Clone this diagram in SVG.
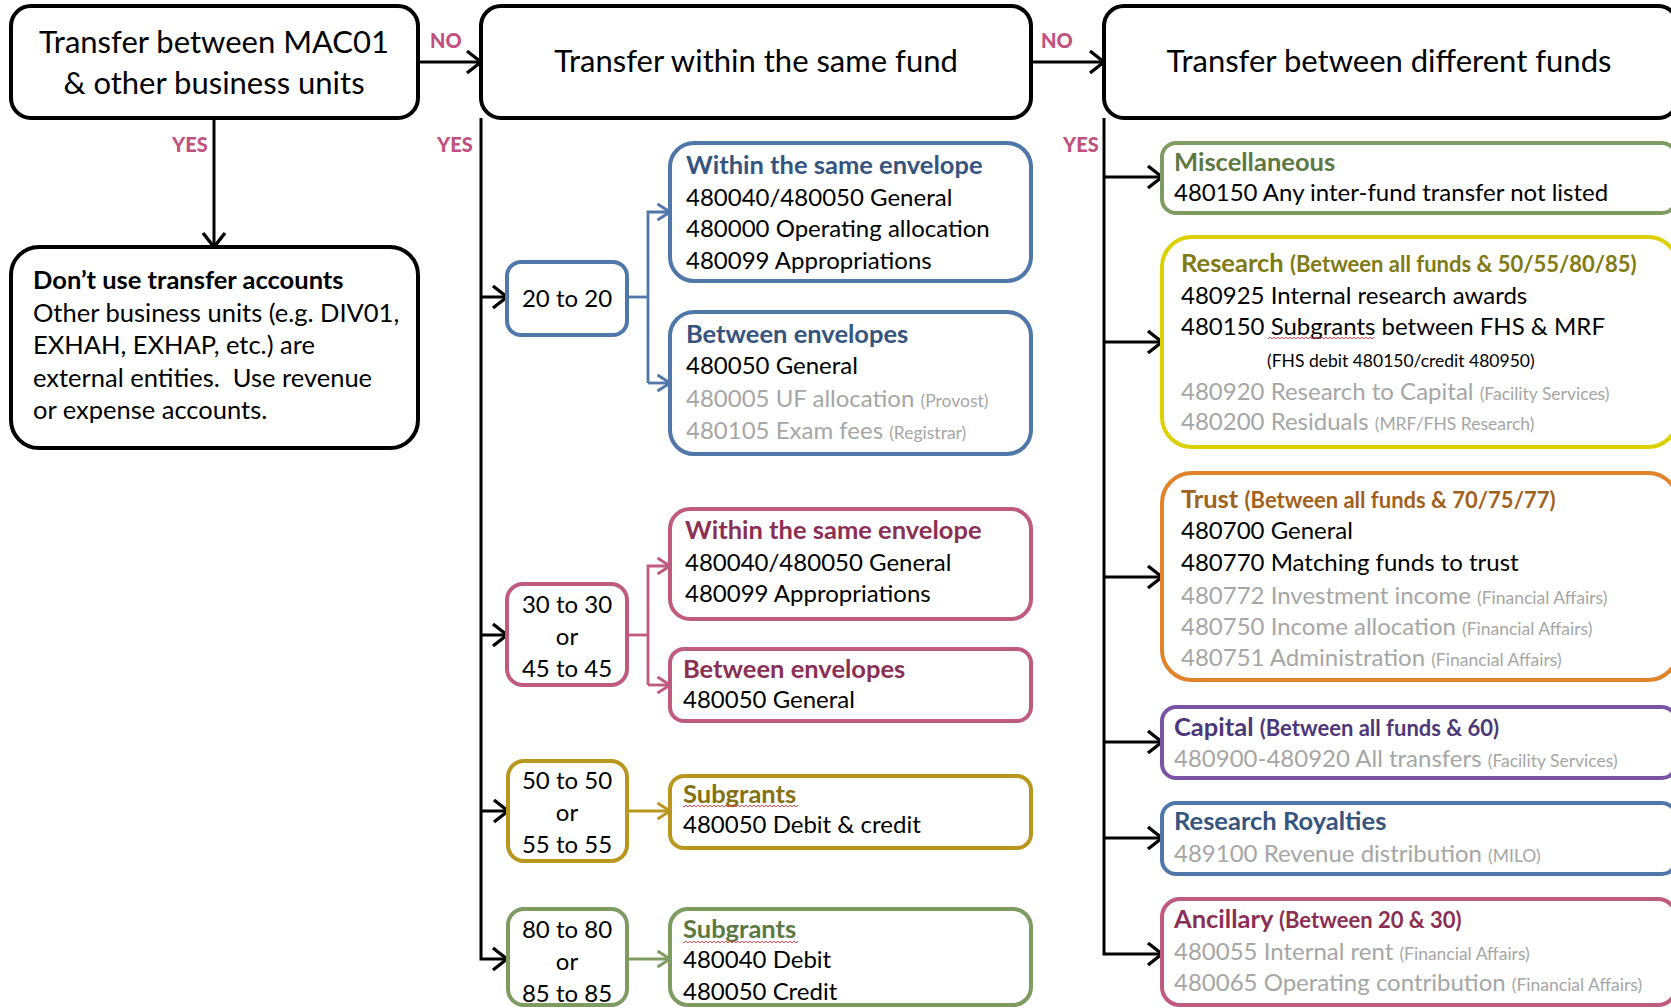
<svg xmlns="http://www.w3.org/2000/svg" width="1671" height="1008" viewBox="0 0 1671 1008">
<style>
text{font-family:Lato,"Open Sans","Liberation Sans",sans-serif;font-size:24px;fill:#000}
.h{font-size:31px}
.b{font-weight:700;font-size:25.5px}
.big{font-size:25.5px}
.st{font-size:22px;font-weight:700}
.g{fill:#a6a6a6}
.s{font-size:17.5px}
.lab{font-size:20px;font-weight:900;fill:#c0507e}
.mid{text-anchor:middle}
rect{fill:#fff;stroke-width:4}
.k{stroke:#000}
.bl{stroke:#4f77aa}.pk{stroke:#be5b7e}.gd{stroke:#b9961e}.gr{stroke:#7e9b62}
.yl{stroke:#ddd000}.or{stroke:#e0832a}.pu{stroke:#7a53a4}
.cbl{fill:#35557f}.cpk{fill:#8b2f55}.cgd{fill:#857014}.cgr{fill:#5c7843}
.cyl{fill:#7f7a12}.cor{fill:#a2611c}.cpu{fill:#4c3878}
.wv{fill:url(#wave);stroke:none}
#connectors path{fill:none}
.ck{stroke:#000;stroke-width:3}
.cb{stroke:#4f77aa;stroke-width:2.8}.cp{stroke:#be5b7e;stroke-width:2.8}
.cg{stroke:#b9961e;stroke-width:2.8}.cn{stroke:#7e9b62;stroke-width:2.8}
</style>
<defs>
<marker id="ak" markerUnits="userSpaceOnUse" markerWidth="18" markerHeight="26" refX="16" refY="13" orient="auto" viewBox="0 0 18 26"><path d="M2,2 L16,13 L2,24" fill="none" stroke="#000" stroke-width="3.4"/></marker>
<marker id="ab" markerUnits="userSpaceOnUse" markerWidth="16" markerHeight="20" refX="14" refY="10" orient="auto" viewBox="0 0 16 20"><path d="M1.5,2 L14,10 L1.5,18" fill="none" stroke="#4f77aa" stroke-width="2.8"/></marker>
<marker id="ap" markerUnits="userSpaceOnUse" markerWidth="16" markerHeight="20" refX="14" refY="10" orient="auto" viewBox="0 0 16 20"><path d="M1.5,2 L14,10 L1.5,18" fill="none" stroke="#be5b7e" stroke-width="2.8"/></marker>
<marker id="ag" markerUnits="userSpaceOnUse" markerWidth="16" markerHeight="20" refX="14" refY="10" orient="auto" viewBox="0 0 16 20"><path d="M1.5,2 L14,10 L1.5,18" fill="none" stroke="#b9961e" stroke-width="2.8"/></marker>
<marker id="an" markerUnits="userSpaceOnUse" markerWidth="16" markerHeight="20" refX="14" refY="10" orient="auto" viewBox="0 0 16 20"><path d="M1.5,2 L14,10 L1.5,18" fill="none" stroke="#7e9b62" stroke-width="2.8"/></marker>
<pattern id="wave" patternUnits="userSpaceOnUse" width="4" height="4"><path d="M0,3 L2,1 L4,3" fill="none" stroke="#e8383d" stroke-width="0.9"/></pattern>
</defs>
<rect x="0" y="0" width="1671" height="1008" style="fill:#fff;stroke:none"/>

<g id="connectors">
<path class="ck" d="M418,62 H481" marker-end="url(#ak)"/>
<path class="ck" d="M214,118 V247" marker-end="url(#ak)"/>
<path class="ck" d="M1031,62 H1104" marker-end="url(#ak)"/>
<path class="ck" d="M481,118 V959 H507" marker-end="url(#ak)"/>
<path class="ck" d="M481,297 H507" marker-end="url(#ak)"/>
<path class="ck" d="M481,635 H507" marker-end="url(#ak)"/>
<path class="ck" d="M481,811 H508" marker-end="url(#ak)"/>
<path class="ck" d="M1104,118 V954 H1162" marker-end="url(#ak)"/>
<path class="ck" d="M1104,177 H1162" marker-end="url(#ak)"/>
<path class="ck" d="M1104,342 H1162" marker-end="url(#ak)"/>
<path class="ck" d="M1104,577 H1162" marker-end="url(#ak)"/>
<path class="ck" d="M1104,742 H1162" marker-end="url(#ak)"/>
<path class="ck" d="M1104,838 H1162" marker-end="url(#ak)"/>
<path class="cb" d="M627,297 H648"/>
<path class="cb" d="M648,383 V212 H670" marker-end="url(#ab)"/>
<path class="cb" d="M648,383 H670" marker-end="url(#ab)"/>
<path class="cp" d="M627,635 H648"/>
<path class="cp" d="M648,685 V566 H670" marker-end="url(#ap)"/>
<path class="cp" d="M648,685 H670" marker-end="url(#ap)"/>
<path class="cg" d="M627,811 H670" marker-end="url(#ag)"/>
<path class="cn" d="M627,959 H670" marker-end="url(#an)"/>
<text class="lab" x="430" y="48">NO</text>
<text class="lab" x="1041" y="48">NO</text>
<text class="lab" x="172" y="152">YES</text>
<text class="lab" x="437" y="152">YES</text>
<text class="lab" x="1063" y="152">YES</text>
</g>

<g id="n-mac01">
<rect class="k" x="11" y="6" width="407" height="112" rx="20"/>
<text class="h mid" x="214" y="53">Transfer between MAC01</text>
<text class="h mid" x="214" y="94">&amp; other business units</text>
</g>

<g id="n-dontuse">
<rect class="k" x="11" y="247" width="407" height="201" rx="28"/>
<text class="b" x="33" y="289">Don’t use transfer accounts</text>
<text class="big" x="33" y="322">Other business units (e.g. DIV01,</text>
<text class="big" x="33" y="354">EXHAH, EXHAP, etc.) are</text>
<text class="big" x="33" y="387" xml:space="preserve">external entities.  Use revenue</text>
<text class="big" x="33" y="419">or expense accounts.</text>
</g>

<g id="n-samefund">
<rect class="k" x="481" y="6" width="550" height="112" rx="20"/>
<text class="h mid" x="756" y="72">Transfer within the same fund</text>
</g>

<g id="n-difffunds">
<rect class="k" x="1104" y="6" width="574" height="112" rx="20"/>
<text class="h mid" x="1389" y="72">Transfer between different funds</text>
</g>

<g id="n-20">
<rect class="bl" x="507" y="262" width="120" height="73" rx="14"/>
<text class="mid" x="567" y="307">20 to 20</text>
</g>

<g id="n-20-within">
<rect class="bl" x="670" y="143" width="361" height="138" rx="24"/>
<text class="b cbl" x="686" y="174">Within the same envelope</text>
<text x="686" y="206">480040/480050 General</text>
<text x="686" y="237">480000 Operating allocation</text>
<text x="686" y="269">480099 Appropriations</text>
</g>

<g id="n-20-between">
<rect class="bl" x="670" y="312" width="361" height="142" rx="24"/>
<text class="b cbl" x="686" y="343">Between envelopes</text>
<text x="686" y="374">480050 General</text>
<text class="g" x="686" y="407">480005 UF allocation <tspan class="s">(Provost)</tspan></text>
<text class="g" x="686" y="439">480105 Exam fees <tspan class="s">(Registrar)</tspan></text>
</g>

<g id="n-30">
<rect class="pk" x="507" y="584" width="120" height="101" rx="16"/>
<text class="mid" x="567" y="613">30 to 30</text>
<text class="mid" x="567" y="645">or</text>
<text class="mid" x="567" y="677">45 to 45</text>
</g>

<g id="n-30-within">
<rect class="pk" x="670" y="509" width="361" height="110" rx="20"/>
<text class="b cpk" x="685" y="539">Within the same envelope</text>
<text x="685" y="571">480040/480050 General</text>
<text x="685" y="602">480099 Appropriations</text>
</g>

<g id="n-30-between">
<rect class="pk" x="670" y="649" width="361" height="72" rx="14"/>
<text class="b cpk" x="683" y="678">Between envelopes</text>
<text x="683" y="708">480050 General</text>
</g>

<g id="n-50">
<rect class="gd" x="508" y="761" width="119" height="100" rx="16"/>
<text class="mid" x="567" y="789">50 to 50</text>
<text class="mid" x="567" y="821">or</text>
<text class="mid" x="567" y="853">55 to 55</text>
</g>

<g id="n-50-subgrants">
<rect class="gd" x="670" y="776" width="361" height="72" rx="14"/>
<text class="b cgd" x="683" y="803">Subgrants</text>
<rect class="wv" x="683" y="805" width="115" height="4"/>
<text x="683" y="833">480050 Debit &amp; credit</text>
</g>

<g id="n-80">
<rect class="gr" x="508" y="909" width="119" height="96" rx="16"/>
<text class="mid" x="567" y="938">80 to 80</text>
<text class="mid" x="567" y="970">or</text>
<text class="mid" x="567" y="1002">85 to 85</text>
</g>

<g id="n-80-subgrants">
<rect class="gr" x="670" y="909" width="361" height="96" rx="18"/>
<text class="b cgr" x="683" y="938">Subgrants</text>
<rect class="wv" x="683" y="940" width="115" height="4"/>
<text x="683" y="968">480040 Debit</text>
<text x="683" y="1000">480050 Credit</text>
</g>

<g id="n-misc">
<rect class="gr" x="1162" y="143" width="514" height="70" rx="14"/>
<text class="b cgr" x="1174" y="171">Miscellaneous</text>
<text x="1174" y="201">480150 Any inter-fund transfer not listed</text>
</g>

<g id="n-research">
<rect class="yl" x="1162" y="237" width="516" height="210" rx="30"/>
<text class="b cyl" x="1181" y="272">Research <tspan class="st">(Between all funds &amp; 50/55/80/85)</tspan></text>
<text x="1181" y="304">480925 Internal research awards</text>
<text x="1181" y="335">480150 Subgrants between FHS &amp; MRF</text>
<rect class="wv" x="1268" y="337" width="106" height="4"/>
<text class="s" x="1267" y="367">(FHS debit 480150/credit 480950)</text>
<text class="g" x="1181" y="400">480920 Research to Capital <tspan class="s">(Facility Services)</tspan></text>
<text class="g" x="1181" y="430">480200 Residuals <tspan class="s">(MRF/FHS Research)</tspan></text>
</g>

<g id="n-trust">
<rect class="or" x="1162" y="473" width="516" height="207" rx="30"/>
<text class="b cor" x="1181" y="508">Trust <tspan class="st">(Between all funds &amp; 70/75/77)</tspan></text>
<text x="1181" y="539">480700 General</text>
<text x="1181" y="571">480770 Matching funds to trust</text>
<text class="g" x="1181" y="604">480772 Investment income <tspan class="s">(Financial Affairs)</tspan></text>
<text class="g" x="1181" y="635">480750 Income allocation <tspan class="s">(Financial Affairs)</tspan></text>
<text class="g" x="1181" y="666">480751 Administration <tspan class="s">(Financial Affairs)</tspan></text>
</g>

<g id="n-capital">
<rect class="pu" x="1162" y="707" width="514" height="71" rx="14"/>
<text class="b cpu" x="1174" y="736">Capital <tspan class="st">(Between all funds &amp; 60)</tspan></text>
<text class="g" x="1174" y="767">480900-480920 All transfers <tspan class="s">(Facility Services)</tspan></text>
</g>

<g id="n-royalties">
<rect class="bl" x="1162" y="803" width="514" height="71" rx="14"/>
<text class="b cbl" x="1174" y="830">Research Royalties</text>
<text class="g" x="1174" y="862">489100 Revenue distribution <tspan class="s">(MILO)</tspan></text>
</g>

<g id="n-ancillary">
<rect class="pk" x="1162" y="899" width="514" height="106" rx="18"/>
<text class="b cpk" x="1174" y="928">Ancillary <tspan class="st">(Between 20 &amp; 30)</tspan></text>
<text class="g" x="1174" y="960">480055 Internal rent <tspan class="s">(Financial Affairs)</tspan></text>
<text class="g" x="1174" y="991">480065 Operating contribution <tspan class="s">(Financial Affairs)</tspan></text>
</g>
</svg>
